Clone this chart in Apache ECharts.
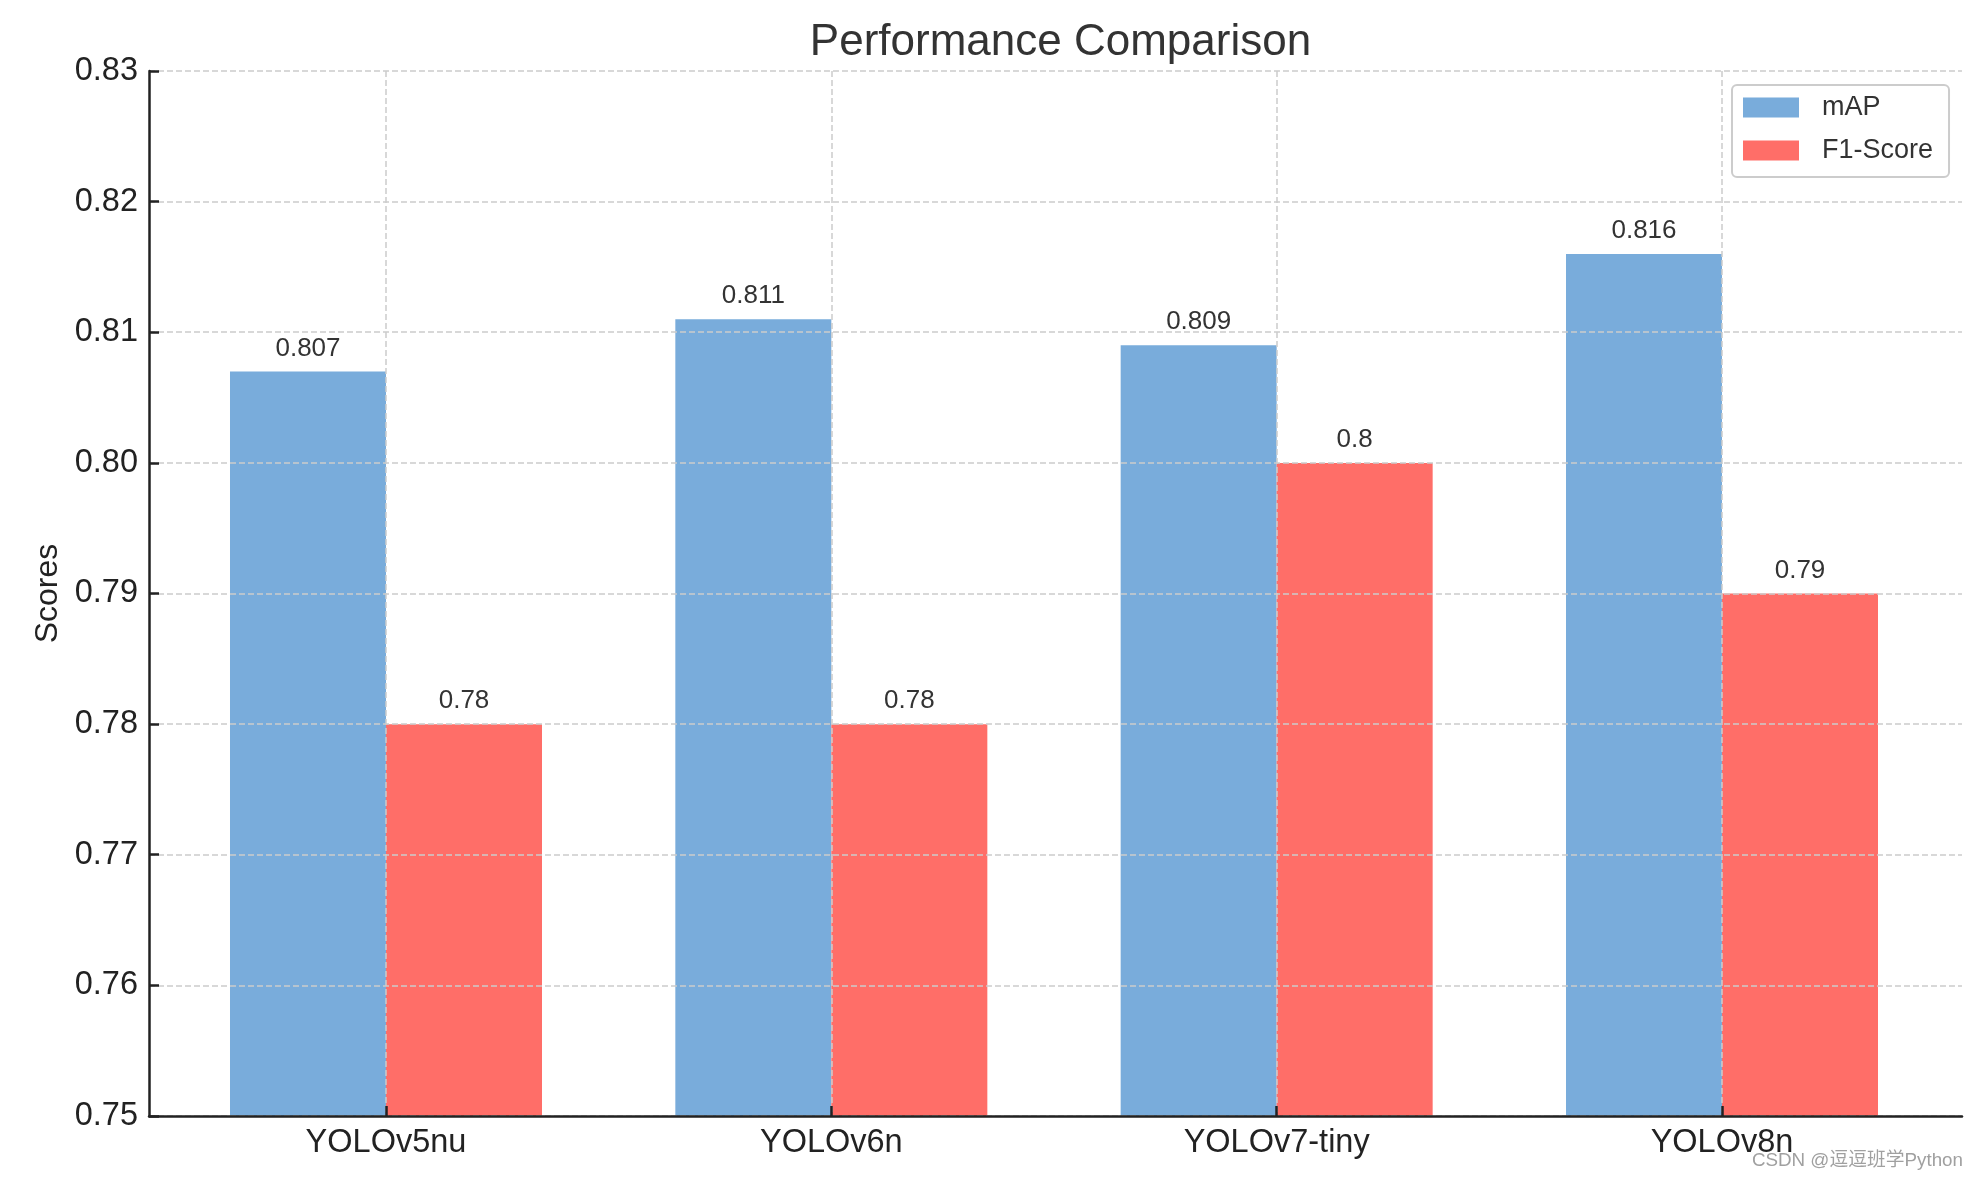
<!DOCTYPE html>
<html>
<head>
<meta charset="utf-8">
<script src="https://cdn.jsdelivr.net/npm/echarts@6/dist/echarts.min.js"></script>
<style>
html,body{margin:0;padding:0;background:#fff;}
#chart{width:1979px;height:1180px;}
</style>
</head>
<body>
<div id="chart"></div>
<script>
const categories = ['YOLOv5nu', 'YOLOv6n', 'YOLOv7-tiny', 'YOLOv8n'];
const mapValues = [0.807, 0.811, 0.809, 0.816];
const f1Values = [0.78, 0.78, 0.8, 0.79];
const yMin = 0.75, yMax = 0.83, yStep = 0.01;

const FONT = '"Liberation Sans", Arial, sans-serif';
const chart = echarts.init(document.getElementById('chart'), null, {renderer: 'canvas'});
const gridLine = {show: true, lineStyle: {color: '#cccccc', width: 1.5, type: [6, 3]}};
const barLabel = {
  show: true, position: 'top', distance: 10,
  color: '#333333', fontSize: 26, fontFamily: FONT,
  formatter: p => String(p.value)
};
const hiddenY = idx => ({
  gridIndex: idx, type: 'value', min: yMin, max: yMax, interval: yStep,
  axisLine: {show: false}, axisTick: {show: false}, axisLabel: {show: false}, splitLine: {show: false}
});
chart.setOption({
  animation: false,
  backgroundColor: '#ffffff',
  textStyle: {fontFamily: FONT},
  title: {
    text: 'Performance Comparison', left: 1055.5, top: 16, textAlign: 'center',
    textStyle: {fontSize: 44, fontWeight: 'normal', color: '#333333', fontFamily: FONT}
  },
  legend: {
    orient: 'vertical', left: 1732, top: 85,
    icon: 'rect', itemWidth: 56, itemHeight: 20, itemGap: 16,
    padding: [9, 16, 13, 11],
    borderColor: '#cccccc', borderWidth: 2, borderRadius: 5,
    textStyle: {fontSize: 27, color: '#333333', fontFamily: FONT, lineHeight: 24, padding: [0, 0, 0, 18]},
    data: ['mAP', 'F1-Score']
  },
  grid: [
    {left: 149, right: 17, top: 71, bottom: 64},
    {left: 163.33, right: 34.33, top: 71, bottom: 64},
    {left: 386, right: 257, top: 71, bottom: 64}
  ],
  xAxis: [
    {
      gridIndex: 0, type: 'value', min: 0, max: 1, z: 3,
      axisLine: {show: true, onZero: false, lineStyle: {color: '#222222', width: 2.5}},
      axisTick: {show: false}, axisLabel: {show: false}, splitLine: {show: false}
    },
    {
      gridIndex: 1, type: 'category', data: categories, boundaryGap: true,
      axisLine: {show: false}, axisTick: {show: false}, axisLabel: {show: false}, splitLine: {show: false}
    },
    {
      gridIndex: 2, type: 'category', data: categories, boundaryGap: false, z: 3,
      axisLine: {show: false},
      axisTick: {show: true, inside: true, length: 10, lineStyle: {color: '#222222', width: 2.5}},
      axisLabel: {show: true, fontSize: 32.5, color: '#222222', margin: 11, fontFamily: FONT},
      splitLine: gridLine
    }
  ],
  yAxis: [
    {
      gridIndex: 0, type: 'value', min: yMin, max: yMax, interval: yStep, z: 3,
      name: 'Scores', nameLocation: 'middle', nameGap: 85, nameRotate: 90,
      nameTextStyle: {fontSize: 32, color: '#222222', fontFamily: FONT},
      axisLine: {show: true, lineStyle: {color: '#222222', width: 2.5}},
      axisTick: {show: true, inside: true, length: 10, lineStyle: {color: '#222222', width: 2.5}},
      axisLabel: {show: true, fontSize: 32.5, color: '#222222', margin: 11, fontFamily: FONT,
        formatter: v => v.toFixed(2)},
      splitLine: gridLine
    },
    hiddenY(1),
    hiddenY(2)
  ],
  series: [
    {
      name: 'mAP', type: 'bar', xAxisIndex: 1, yAxisIndex: 1,
      data: mapValues, barWidth: 156, barGap: '0%',
      itemStyle: {color: '#79acdb'}, label: barLabel
    },
    {
      name: 'F1-Score', type: 'bar', xAxisIndex: 1, yAxisIndex: 1,
      data: f1Values, barWidth: 156, barGap: '0%',
      itemStyle: {color: '#ff6e68'}, label: barLabel
    }
  ],
  graphic: [{
    type: 'text', right: 16, top: 1151, z: 10,
    style: {text: 'CSDN @逗逗班学Python', fill: '#a0a0a0', fontSize: 18.8,
      fontFamily: '"Liberation Sans", "Noto Sans CJK SC", sans-serif'}
  }]
});
</script>
</body>
</html>
